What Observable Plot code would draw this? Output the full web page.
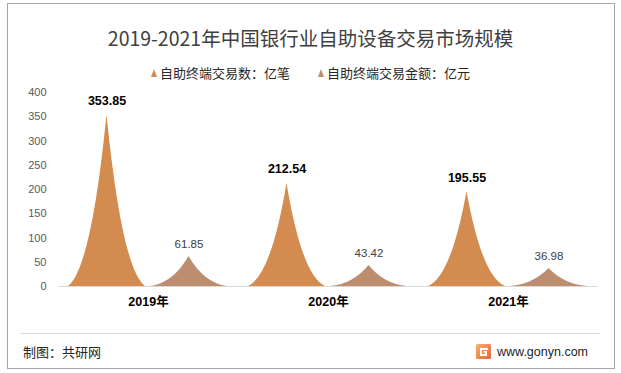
<!DOCTYPE html>
<html><head><meta charset="utf-8">
<script src="https://cdn.jsdelivr.net/npm/d3@7"></script>
<script src="https://cdn.jsdelivr.net/npm/@observablehq/plot@0.6"></script>
<style>
body{margin:0;background:#fff;}
#wrap{position:relative;width:621px;height:373px;overflow:hidden;font-family:"Noto Sans CJK SC","Liberation Sans",sans-serif;background:#fff;}
#border{position:absolute;left:7px;top:3px;width:606px;height:364px;border:1px solid #a6a6a6;box-sizing:content-box;}
#title{position:absolute;left:0;top:27px;width:621px;text-align:center;font-size:19.5px;line-height:22px;color:#404040;white-space:nowrap;}
.leg{position:absolute;top:65px;font-size:13px;line-height:16px;color:#262626;white-space:nowrap;}
.tri{position:absolute;top:69px;width:0;height:0;border-left:3.5px solid transparent;border-right:3.5px solid transparent;border-bottom:8px solid #D38B50;}
#chart{position:absolute;left:0;top:80px;}
#sep{position:absolute;left:20px;top:333px;width:580px;height:0;border-top:1px solid #d9d9d9;}
#credit{position:absolute;left:23px;top:343px;font-size:13px;line-height:18px;color:#262626;white-space:nowrap;}
#site{position:absolute;left:497px;top:343px;font-family:"Liberation Sans",sans-serif;font-size:12.5px;line-height:18px;color:#262626;white-space:nowrap;}
#logo{position:absolute;left:476px;top:344px;}
</style></head><body>
<div id="wrap">
  <div id="border"></div>
  <div id="title">2019-2021年中国银行业自助设备交易市场规模</div>
  <div id="legend"></div>
  <div id="chart"></div>
  <div id="sep"></div>
  <div id="credit">制图：共研网</div>
  <svg id="logo" width="15" height="15" viewBox="0 0 15 15">
    <defs><linearGradient id="lg" x1="0" y1="0" x2="1" y2="1"><stop offset="0" stop-color="#f9b26b"/><stop offset="1" stop-color="#e8643a"/></linearGradient></defs>
    <rect x="0" y="0" width="15" height="15" rx="1.5" fill="url(#lg)"/>
    <path d="M4 4H12V6H6V10H9V8.5H7.5V7H11V12H4Z" fill="#fff"/>
  </svg>
  <div id="site">www.gonyn.com</div>
</div>
<script>
const years = ["2019", "2020", "2021"];
const seriesNames = ["自助终端交易数：亿笔", "自助终端交易金额：亿元"];
const txCount = [353.85, 212.54, 195.55];
const txAmount = [61.85, 43.42, 36.98];
const yTicks = [0, 50, 100, 150, 200, 250, 300, 350, 400];
const colors = ["#D38B50", "#BC8D6E"];

const data = years.flatMap((y, i) => [
  {year: y, series: seriesNames[0], value: txCount[i]},
  {year: y, series: seriesNames[1], value: txAmount[i]}
]);

// legend
const legend = document.getElementById("legend");
const legPos = [{tri: 151, text: 160}, {tri: 318, text: 327}];
seriesNames.forEach((s, i) => {
  const t = document.createElement("div");
  t.className = "tri";
  t.style.left = legPos[i].tri + "px";
  t.style.borderBottomColor = colors[i];
  legend.appendChild(t);
  const l = document.createElement("div");
  l.className = "leg";
  l.style.left = legPos[i].text + "px";
  l.textContent = s;
  legend.appendChild(l);
});

const chart = Plot.plot({
  width: 621,
  height: 246,
  marginTop: 12,
  marginBottom: 40,
  marginLeft: 58,
  marginRight: 23,
  style: {background: "transparent", fontFamily: "'Liberation Sans','Noto Sans CJK SC',sans-serif", fontSize: "11px", color: "#595959", overflow: "visible"},
  facet: {data, x: "year"},
  fx: {domain: years, padding: 0, axis: "bottom", label: null, tickSize: 0, tickPadding: 16, tickFormat: d => d + "年"},
  x: {domain: seriesNames, paddingInner: 0.056, paddingOuter: 0.1175, axis: null},
  y: {domain: [0, 400], ticks: yTicks, tickSize: 0, tickPadding: 12, label: null},
  color: {domain: seriesNames, range: colors},
  marks: [
    Plot.ruleY([0], {stroke: "#d9d9d9", strokeWidth: 1}),
    Plot.barY(data, {x: "series", y: "value", fill: "series"}),
    Plot.text(data, {filter: d => d.series === seriesNames[0], x: "series", y: "value", text: d => d.value.toFixed(2), dy: -14, fontWeight: "bold", fontSize: 12.5, fill: "#000"}),
    Plot.text(data, {filter: d => d.series === seriesNames[1], x: "series", y: "value", text: d => d.value.toFixed(2), dy: -12, fontSize: 11.5, fill: "#404040"})
  ]
});

// turn each bar into a concave spike shape
const ns = "http://www.w3.org/2000/svg";
chart.querySelectorAll('g[aria-label="bar"] rect').forEach(r => {
  const x = +r.getAttribute("x"), y = +r.getAttribute("y");
  const w = +r.getAttribute("width"), h = +r.getAttribute("height");
  const yb = y + h, xc = x + w / 2;
  const c1x = x + 0.6 * (w / 2), c2x = x + w - 0.6 * (w / 2), cy = yb - 0.1 * h;
  const p = document.createElementNS(ns, "path");
  for (const a of r.attributes) {
    if (!["x", "y", "width", "height"].includes(a.name)) p.setAttribute(a.name, a.value);
  }
  p.setAttribute("d", `M${x},${yb}Q${c1x},${cy} ${xc},${y}Q${c2x},${cy} ${x + w},${yb}Z`);
  r.replaceWith(p);
});

chart.querySelectorAll('g[aria-label^="fx-axis"] text').forEach(t => {
  t.style.fontWeight = "bold";
  t.style.fontSize = "12.5px";
  t.style.fill = "#000";
  t.setAttribute("y", (+t.getAttribute("y") || 0) + 3);
});
chart.querySelectorAll('g[aria-label^="y-axis"] text').forEach(t => {
  t.style.fill = "#595959";
});

document.getElementById("chart").appendChild(chart);
</script>
</body></html>
